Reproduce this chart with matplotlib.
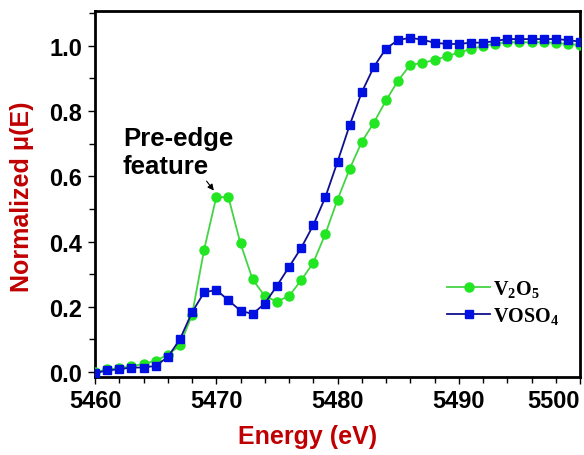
import matplotlib
matplotlib.use("Agg")
import matplotlib.pyplot as plt
from matplotlib.ticker import MultipleLocator

plt.rcParams['font.family'] = ['Liberation Sans', 'DejaVu Sans']
plt.rcParams['mathtext.fontset'] = 'custom'
plt.rcParams['mathtext.rm'] = 'Liberation Serif:bold'
plt.rcParams['mathtext.it'] = 'Liberation Serif:bold'
plt.rcParams['mathtext.bf'] = 'Liberation Serif:bold'

# energies (eV), one point per eV
energy = list(range(5460, 5501))

v2o5 = [0.000, 0.008, 0.012, 0.018, 0.025, 0.035, 0.053, 0.082, 0.175, 0.375,
        0.536, 0.536, 0.394, 0.284, 0.233, 0.216, 0.233, 0.281, 0.335, 0.423,
        0.528, 0.622, 0.705, 0.764, 0.832, 0.893, 0.941, 0.947, 0.956, 0.967,
        0.979, 0.989, 0.999, 1.006, 1.010, 1.010, 1.010, 1.010, 1.008, 1.005,
        1.002]

voso4 = [-0.003, 0.005, 0.009, 0.014, 0.014, 0.019, 0.046, 0.100, 0.183, 0.244,
         0.252, 0.220, 0.188, 0.178, 0.210, 0.264, 0.322, 0.380, 0.450, 0.536,
         0.644, 0.756, 0.857, 0.935, 0.991, 1.017, 1.024, 1.018, 1.009, 1.005,
         1.005, 1.009, 1.009, 1.014, 1.020, 1.020, 1.020, 1.020, 1.020, 1.017,
         1.012]

xticks = [5460, 5470, 5480, 5490, 5500]

red = '#c00000'

fig = plt.figure(figsize=(5.84, 4.56), dpi=100)
ax = fig.add_axes([95/584, (456-378)/456, (580-95)/584, (378-12)/456])

ax.plot(energy, v2o5, '-o', color='#44d444', mfc='#22e622', mec='#22e622',
        ms=6.5, lw=1.3, label='V$_{2}$O$_{5}$', zorder=3)
ax.plot(energy, voso4, '-s', color='#10108f', mfc='#0010e0', mec='#0010e0',
        ms=6, lw=1.3, label='VOSO$_{4}$', zorder=4)

ax.set_xlim(5460, 5500)
ax.set_ylim(-0.015, 1.106)
ax.set_xticks(xticks, [str(v) for v in xticks])
ax.xaxis.set_minor_locator(MultipleLocator(2))
ax.yaxis.set_major_locator(MultipleLocator(0.2))
ax.yaxis.set_minor_locator(MultipleLocator(0.1))
ax.yaxis.set_major_formatter(lambda v, p: f'{v:.1f}')
ax.tick_params(which='both', direction='out', top=False, right=False,
               labelsize=17, width=1)
ax.tick_params(which='major', length=5, pad=4)
ax.tick_params(which='minor', length=4)
for lab in ax.get_xticklabels() + ax.get_yticklabels():
    lab.set_fontweight('bold')
# last x label sits inside the figure, like the original
ax.get_xticklabels()[-1].set_horizontalalignment('right')
for sp in ax.spines.values():
    sp.set_linewidth(2)

fig.text(308/584, 1 - 437/456, 'Energy (eV)', color=red, fontsize=18,
         fontweight='bold', ha='center', va='center')
fig.text(22/584, 1 - 197/456, 'Normalized μ(E)', color=red, fontsize=18,
         fontweight='bold', ha='center', va='center', rotation=90)

ax.text(5462.3, 0.755, 'Pre-edge\nfeature', fontsize=18.5, fontweight='bold',
        ha='left', va='top', linespacing=1.25)
ax.annotate('', xy=(5469.8, 0.556), xytext=(5469.2, 0.585),
            arrowprops=dict(arrowstyle='-|>', color='black', lw=0.8,
                            mutation_scale=9, shrinkA=0, shrinkB=0))

leg = ax.legend(loc='upper left', bbox_to_anchor=(0.705, 0.298),
                frameon=False, fontsize=14.5, handlelength=2.15,
                handletextpad=0.15, borderpad=0, labelspacing=0.3)
for t in leg.get_texts():
    t.set_fontfamily('Liberation Serif')
    t.set_fontweight('bold')

fig.savefig('out.png', dpi=100)
